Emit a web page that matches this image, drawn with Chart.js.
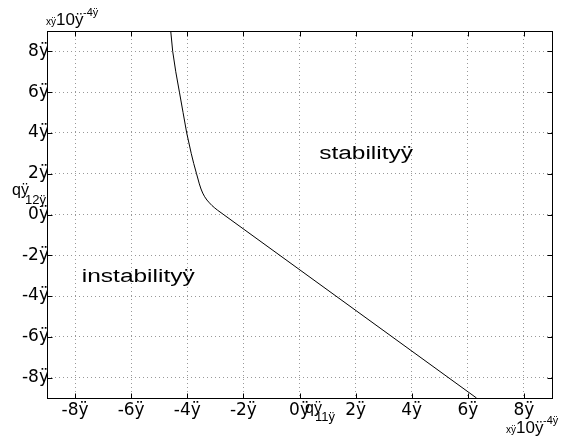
<!DOCTYPE html>
<html><head><meta charset="utf-8">
<script src="https://cdn.jsdelivr.net/npm/chart.js@4"></script>
<style>html,body{margin:0;padding:0;background:#fff}</style>
</head><body>
<canvas id="c" width="569" height="436"></canvas>
<script>
// Boundary curve (units of 1e-4)
const curveX = [-4.59, -4.52, -4.41, -4.28, -4.15, -4.02, -3.86, -3.77, -3.67, -3.57, -3.51, -3.45, -3.38, -3.30, -3.21, -3.12, -3.02, -2.92, 6.31];
const curveY = [9, 8, 7, 6, 5, 4, 3, 2.5, 2, 1.5, 1.25, 1.05, 0.87, 0.71, 0.57, 0.44, 0.32, 0.21, -9];

const xTickValues = [-8, -6, -4, -2, 0, 2, 4, 6, 8];
const xTickLabels = ['-8ÿ', '-6ÿ', '-4ÿ', '-2ÿ', '0ÿ', '2ÿ', '4ÿ', '6ÿ', '8ÿ'];
const yTickValues = [-8, -6, -4, -2, 0, 2, 4, 6, 8];
const yTickLabels = ['-8ÿ', '-6ÿ', '-4ÿ', '-2ÿ', '0ÿ', '2ÿ', '4ÿ', '6ÿ', '8ÿ'];
const xRange = [-9, 9];
const yRange = [-9, 9];

const regionLabels = ['stabilityÿ', 'instabilityÿ'];
const regionX = [0.70, -7.76];
const regionY = [2.73, -3.33];

const xAxisLabel = ['qÿ', '11ÿ'];
const yAxisLabel = ['qÿ', '12ÿ'];
const exponentLabel = ['xÿ', '10ÿ', '-4ÿ'];

const frame = {
  id: 'frame',
  afterDraw(chart) {
    const {ctx, chartArea: a, scales: {x, y}} = chart;
    ctx.save();
    ctx.strokeStyle = '#000';
    ctx.lineWidth = 1;
    const L = Math.round(a.left) + 0.5, T = Math.round(a.top) + 0.5;
    const R = Math.round(a.right) + 0.5, B = Math.round(a.bottom) + 0.5;
    ctx.strokeRect(L, T, R - L, B - T);
    ctx.beginPath();
    xTickValues.forEach(v => {
      const px = Math.round(x.getPixelForValue(v)) + 0.5;
      ctx.moveTo(px, B); ctx.lineTo(px, B - 5);
      ctx.moveTo(px, T); ctx.lineTo(px, T + 5);
    });
    yTickValues.forEach(v => {
      const py = Math.round(y.getPixelForValue(v)) + 0.5;
      ctx.moveTo(L, py); ctx.lineTo(L + 5, py);
      ctx.moveTo(R, py); ctx.lineTo(R - 5, py);
    });
    ctx.stroke();

    ctx.fillStyle = '#000';
    ctx.textAlign = 'left';
    ctx.textBaseline = 'alphabetic';
    ctx.font = '18px "Liberation Sans"';
    regionLabels.forEach((t, i) => {
      ctx.save();
      ctx.translate(x.getPixelForValue(regionX[i]), y.getPixelForValue(regionY[i]));
      ctx.scale(1.36, 1);
      ctx.fillText(t, 0, 0);
      ctx.restore();
    });

    // y axis label q_12
    ctx.font = '16px "Liberation Sans"';
    ctx.fillText(yAxisLabel[0], 12, 195);
    ctx.font = '13px "Liberation Sans"';
    ctx.fillText(yAxisLabel[1], 25, 204);
    // x axis label q_11
    ctx.font = '16px "Liberation Sans"';
    ctx.fillText(xAxisLabel[0], 305, 413);
    ctx.font = '13px "Liberation Sans"';
    ctx.fillText(xAxisLabel[1], 315, 421);

    // exponent labels
    const drawExp = (x0, base) => {
      ctx.font = '10px "Liberation Sans"';
      ctx.fillText(exponentLabel[0], x0, base);
      ctx.font = '17px "Liberation Sans"';
      ctx.fillText(exponentLabel[1], x0 + 10, base);
      ctx.font = '11px "Liberation Sans"';
      ctx.fillText(exponentLabel[2], x0 + 37, base - 9);
    };
    drawExp(46, 25);
    drawExp(506, 433);
    ctx.restore();
  }
};

new Chart(document.getElementById('c'), {
  type: 'scatter',
  data: {
    datasets: [{
      data: curveX.map((v, i) => ({x: v, y: curveY[i]})),
      showLine: true,
      borderColor: '#000',
      borderWidth: 1,
      pointRadius: 0,
      tension: 0,
      fill: false
    }]
  },
  options: {
    responsive: false,
    animation: false,
    layout: {padding: {top: 31, right: 17, left: 0, bottom: 0}},
    plugins: {legend: {display: false}, tooltip: {enabled: false}},
    scales: {
      x: {
        type: 'linear', min: xRange[0], max: xRange[1],
        afterBuildTicks: s => { s.ticks = xTickValues.map(v => ({value: v})); },
        afterFit: s => { s.height = 38; },
        ticks: {
          callback: v => xTickLabels[xTickValues.indexOf(v)],
          font: {family: 'DejaVu Sans', size: 17}, color: '#000',
          padding: 2, maxRotation: 0, autoSkip: false
        },
        grid: {color: '#999', drawTicks: false, lineWidth: 1},
        border: {display: false, dash: [1, 3]}
      },
      y: {
        type: 'linear', min: yRange[0], max: yRange[1],
        afterBuildTicks: s => { s.ticks = yTickValues.map(v => ({value: v})); },
        afterFit: s => { s.width = 47; },
        ticks: {
          callback: v => yTickLabels[yTickValues.indexOf(v)],
          font: {family: 'DejaVu Sans', size: 17}, color: '#000',
          padding: -2, autoSkip: false
        },
        grid: {color: '#999', drawTicks: false, lineWidth: 1},
        border: {display: false, dash: [1, 3]}
      }
    }
  },
  plugins: [frame]
});
</script>
</body></html>
